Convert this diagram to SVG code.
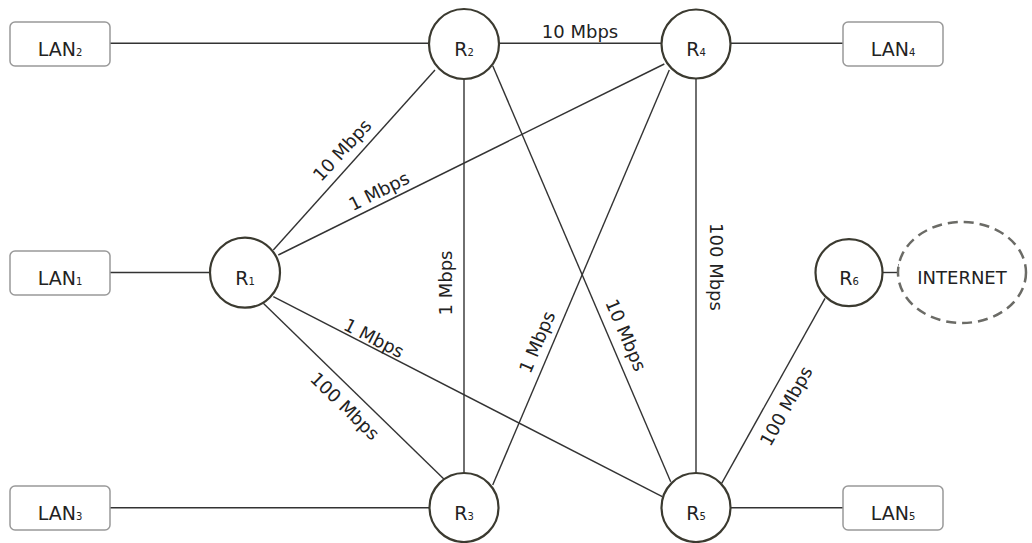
<svg xmlns="http://www.w3.org/2000/svg" width="1032" height="543" viewBox="0 0 1032 543">
<style>
.bg{fill:#ffffff}
.ln{stroke:#333333;stroke-width:1.4;fill:none}
.rt{fill:#ffffff;stroke:#3b3a30;stroke-width:2.2}
.lan{fill:#ffffff;stroke:#999999;stroke-width:1.5}
.nt{font-family:"DejaVu Sans",Verdana,sans-serif;font-size:19px;fill:#222222;text-anchor:middle}
.sub{font-size:10px}
.el{font-family:"DejaVu Sans",Verdana,sans-serif;font-size:18px;fill:#222222;text-anchor:middle}
.cloud{fill:#ffffff;stroke:#6b6b66;stroke-width:2.5;stroke-dasharray:10 6}
</style>
<rect class="bg" x="0" y="0" width="1032" height="543"/>
<g id="connectors">
<line class="ln" x1="110" y1="43.3" x2="435" y2="43.3"/>
<line class="ln" x1="730" y1="43.3" x2="843" y2="43.3"/>
<line class="ln" x1="110" y1="272.5" x2="215" y2="272.5"/>
<line class="ln" x1="110" y1="507.7" x2="435" y2="507.7"/>
<line class="ln" x1="730" y1="507.7" x2="843" y2="507.7"/>
<line class="ln" x1="495" y1="43.3" x2="665" y2="43.3"/>
<line class="ln" x1="273.3" y1="250" x2="435" y2="70"/>
<line class="ln" x1="278.3" y1="255" x2="664.3" y2="64"/>
<line class="ln" x1="464" y1="75" x2="464" y2="477"/>
<line class="ln" x1="696" y1="75" x2="696" y2="477"/>
<line class="ln" x1="669.3" y1="70" x2="492.7" y2="485"/>
<line class="ln" x1="492.7" y1="65.7" x2="670.7" y2="481.7"/>
<line class="ln" x1="273.3" y1="296.7" x2="662.3" y2="496.7"/>
<line class="ln" x1="263.3" y1="303.3" x2="446.7" y2="481.7"/>
<line class="ln" x1="825" y1="298.3" x2="721.7" y2="483.3"/>
<line class="ln" x1="880" y1="272.5" x2="899" y2="272.5"/>
<line class="ln" x1="899" y1="264" x2="899" y2="275"/>
<text class="el" transform="translate(580,31) rotate(0)" dy="6.5">10 Mbps</text>
<text class="el" transform="translate(342,150) rotate(-47.5)" dy="6.5">10 Mbps</text>
<text class="el" transform="translate(379,191) rotate(-26.3)" dy="6.5">1 Mbps</text>
<text class="el" transform="translate(445,283) rotate(-90)" dy="6.5">1 Mbps</text>
<text class="el" transform="translate(716,267) rotate(90)" dy="6.5">100 Mbps</text>
<text class="el" transform="translate(626,335) rotate(66.8)" dy="6.5">10 Mbps</text>
<text class="el" transform="translate(537,342) rotate(-67)" dy="6.5">1 Mbps</text>
<text class="el" transform="translate(374,338) rotate(27.2)" dy="6.5">1 Mbps</text>
<text class="el" transform="translate(345,406) rotate(44.2)" dy="6.5">100 Mbps</text>
<text class="el" transform="translate(786,406) rotate(-60.8)" dy="6.5">100 Mbps</text>
</g>
<g id="LAN2"><rect class="lan" x="10" y="22" width="100" height="44" rx="5"/><text class="nt" x="60" y="56">LAN<tspan class="sub">2</tspan></text></g>
<g id="LAN1"><rect class="lan" x="10" y="251" width="100" height="44" rx="5"/><text class="nt" x="60" y="285">LAN<tspan class="sub">1</tspan></text></g>
<g id="LAN3"><rect class="lan" x="10" y="486" width="100" height="44" rx="5"/><text class="nt" x="60" y="520">LAN<tspan class="sub">3</tspan></text></g>
<g id="LAN4"><rect class="lan" x="843" y="22" width="100" height="44" rx="5"/><text class="nt" x="893" y="56">LAN<tspan class="sub">4</tspan></text></g>
<g id="LAN5"><rect class="lan" x="843" y="486" width="100" height="44" rx="5"/><text class="nt" x="893" y="520">LAN<tspan class="sub">5</tspan></text></g>
<g id="R1"><circle class="rt" cx="245" cy="272.7" r="35"/><text class="nt" x="245" y="285">R<tspan class="sub">1</tspan></text></g>
<g id="R2"><circle class="rt" cx="464" cy="44" r="35"/><text class="nt" x="464" y="56">R<tspan class="sub">2</tspan></text></g>
<g id="R3"><circle class="rt" cx="464" cy="507.5" r="34.5"/><text class="nt" x="464" y="520">R<tspan class="sub">3</tspan></text></g>
<g id="R4"><circle class="rt" cx="696" cy="44" r="34.5"/><text class="nt" x="696" y="56">R<tspan class="sub">4</tspan></text></g>
<g id="R5"><circle class="rt" cx="696" cy="507.5" r="34.5"/><text class="nt" x="696" y="520">R<tspan class="sub">5</tspan></text></g>
<g id="R6"><circle class="rt" cx="849" cy="272.7" r="33.5"/><text class="nt" x="849" y="285">R<tspan class="sub">6</tspan></text></g>
<g id="INTERNET"><ellipse class="cloud" cx="962" cy="272.5" rx="64" ry="50.5"/><text class="el" x="962" y="284">INTERNET</text></g>
</svg>
